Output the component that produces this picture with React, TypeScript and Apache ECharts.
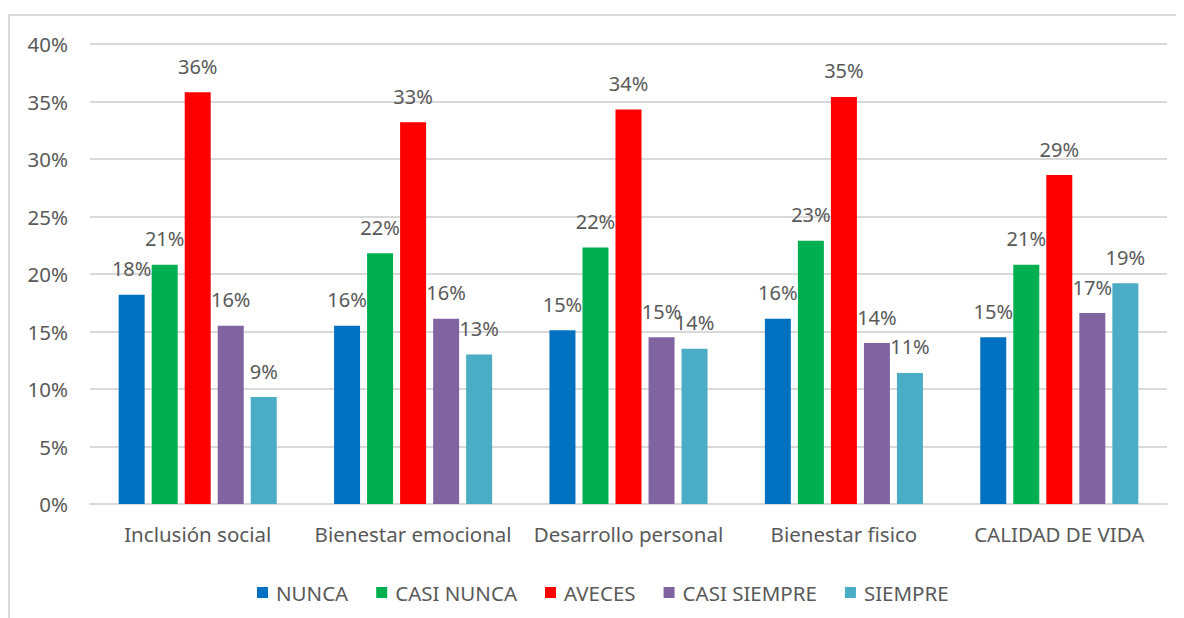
import React, { useEffect, useRef } from "react";
import * as echarts from "echarts";

const categories = [
  "Inclusión social",
  "Bienestar emocional",
  "Desarrollo personal",
  "Bienestar fisico",
  "CALIDAD DE VIDA",
];
const seriesNames = ["NUNCA", "CASI NUNCA", "AVECES", "CASI SIEMPRE", "SIEMPRE"];
const nunca = [18.2, 15.5, 15.1, 16.1, 14.5];
const casiNunca = [20.8, 21.8, 22.3, 22.9, 20.8];
const aveces = [35.8, 33.2, 34.3, 35.4, 28.6];
const casiSiempre = [15.5, 16.1, 14.5, 14.0, 16.6];
const siempre = [9.3, 13.0, 13.5, 11.4, 19.2];
const colors = ["#0070C0", "#00B050", "#FF0000", "#8064A2", "#4BACC6"];
const yTicks = { min: 0, max: 40, interval: 5 };

const FONT = "Noto Sans";
const TXT = "#595959";
const FS = 20.5;

export default function App() {
  const ref = useRef<HTMLDivElement>(null);
  useEffect(() => {
    if (!ref.current) return;
    const chart = echarts.init(ref.current, undefined, { renderer: "svg" });
    const values = [nunca, casiNunca, aveces, casiSiempre, siempre];
    chart.setOption({
      animation: false,
      textStyle: { fontFamily: FONT },
      grid: { left: 82, right: 17, top: 36, bottom: 114, containLabel: false },
      legend: {
        data: seriesNames,
        left: 244,
        top: 569,
        icon: "rect",
        itemWidth: 11,
        itemHeight: 11,
        itemGap: 28,
        textStyle: { color: TXT, fontSize: FS, fontFamily: FONT, padding: [0, 0, 0, 3] },
      },
      xAxis: {
        type: "category",
        data: categories,
        axisLine: { show: true, lineStyle: { color: "#d9d9d9", width: 2 } },
        axisTick: { show: false },
        axisLabel: { color: TXT, fontSize: FS, fontFamily: FONT, margin: 19, interval: 0, hideOverlap: false },
      },
      yAxis: {
        type: "value",
        min: yTicks.min,
        max: yTicks.max,
        interval: yTicks.interval,
        axisLine: { show: false },
        axisTick: { show: false },
        axisLabel: { color: TXT, fontSize: FS, fontFamily: FONT, margin: 22, formatter: "{value}%" },
        splitLine: { lineStyle: { color: "#d9d9d9", width: 2 } },
      },
      graphic: [
        { type: "line", shape: { x1: 1, y1: 7, x2: 1, y2: 610 }, style: { stroke: "#d9d9d9", lineWidth: 2 } },
        { type: "line", shape: { x1: 0, y1: 7, x2: 1176, y2: 7 }, style: { stroke: "#d9d9d9", lineWidth: 2 } },
      ],
      series: seriesNames.map((name, i) => ({
        name,
        type: "bar",
        data: values[i],
        barWidth: 26,
        barGap: "27%",
        itemStyle: { color: colors[i] },
        label: {
          show: true,
          position: "top",
          distance: 16,
          color: TXT,
          fontSize: 20,
          fontFamily: FONT,
          formatter: (p: any) => Math.round(p.value) + "%",
        },
      })),
    });
    return () => chart.dispose();
  }, []);
  return <div ref={ref} style={{ width: 1176, height: 610 }} />;
}
